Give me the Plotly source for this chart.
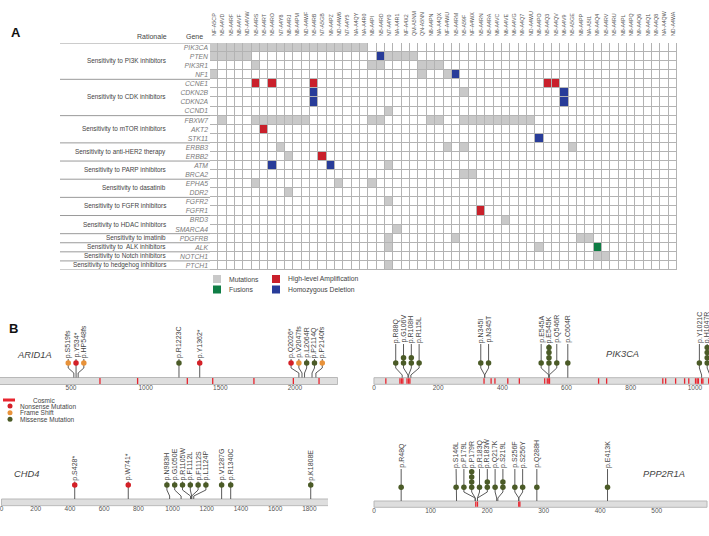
import plotly.graph_objects as go

W, H = 709, 536
FONT = "Liberation Sans, Arial, sans-serif"

# ---------------- Panel A data ----------------
SAMPLES = ["NF-A5CP", "N5-A4VD", "N5-A4RF", "N8-A4VF", "ND-A4VW", "N5-A4RS", "N5-A4RT", "N5-A4RO",
           "N7-A4Y8", "N8-A4RJ", "N8-A4PM", "ND-A4WF", "N5-A4RB", "N7-A5GB", "N9-A4PZ", "ND-A4W6",
           "N7-A4Y5", "NA-A4QY", "NA-A4R0", "N8-A4PI", "N5-A4RD", "N7-A4Y0", "NA-A4R1", "NF-A4X2",
           "QM-A5NM", "QN-A5NN", "N8-A4PN", "NA-A4QX", "NF-A4WU", "N5-A4RM", "N5-A59F", "NF-A4WX",
           "N5-A4RN", "N5-A4RA", "N6-A4VC", "N6-A4VE", "N6-A4VG", "N9-A4Q7", "ND-A4WU", "N8-A4PO",
           "N5-A4Q3", "N5-A4QV", "N6-A4V9", "N5-A5GE", "N8-A4PP", "NA-A5I1", "N9-A4Q4", "N5-A4RV",
           "N5-A4RU", "N8-A4PL", "N8-A4PQ", "N9-A4Q6", "N9-A4Q1", "N9-A4Q8", "NA-A4QW", "ND-A4WA"]

GENES = ["PIK3CA", "PTEN", "PIK3R1", "NF1", "CCNE1", "CDKN2B", "CDKN2A", "CCND1", "FBXW7", "AKT2",
         "STK11", "ERBB3", "ERBB2", "ATM", "BRCA2", "EPHA5", "DDR2", "FGFR2", "FGFR1", "BRD3",
         "SMARCA4", "PDGFRB", "ALK", "NOTCH1", "PTCH1"]

RATIONALES = ["Sensitivity to PI3K inhibitors", "Sensitivity to CDK inhibitors",
              "Sensitivity to mTOR inhibitors", "Sensitivity to anti-HER2 therapy",
              "Sensitivity to PARP inhibitors", "Sensitivity to dasatinib",
              "Sensitivity to FGFR inhibitors", "Sensitivity to HDAC inhibitors",
              "Sensitivity to imatinib", "Sensitivity to  ALK inhibitors",
              "Sensitivity to Notch inhibitors", "Sensitivity to hedgehog inhibitors"]
RATIONALE_SIZES = [4, 4, 3, 2, 2, 2, 2, 2, 1, 1, 1, 1]

# sample indices (into SAMPLES) per gene and alteration type
MUTATIONS = {
    "PIK3CA": [0, 1, 2, 3, 4, 5, 6, 7, 8, 9, 10, 11, 12, 13, 14, 15, 16, 17, 18],
    "PTEN": [0, 1, 2, 3, 4, 21, 22, 23, 24],
    "PIK3R1": [5, 19, 20, 25, 26, 27],
    "NF1": [0, 25, 28],
    "CDKN2B": [30],
    "CCND1": [21],
    "FBXW7": [1, 5, 6, 7, 8, 9, 10, 11, 19, 20, 26, 27, 30, 31, 32, 33, 34, 35, 36, 37, 38],
    "ERBB3": [8, 28, 30, 43],
    "ERBB2": [9],
    "ATM": [21],
    "BRCA2": [30, 31],
    "EPHA5": [5, 15, 19],
    "DDR2": [9],
    "FGFR2": [21],
    "BRD3": [35],
    "SMARCA4": [22],
    "PDGFRB": [21, 29, 44, 45],
    "ALK": [21, 39],
    "NOTCH1": [46, 47],
    "PTCH1": [21],
}
AMPLIFICATIONS = {"CCNE1": [5, 7, 12, 40, 41], "AKT2": [6], "ERBB2": [13], "FGFR1": [32]}
DELETIONS = {"PTEN": [20], "NF1": [29], "CDKN2B": [12, 42], "CDKN2A": [12, 42],
             "STK11": [39], "ATM": [7, 14]}
FUSIONS = {"ALK": [46]}

ALT_NAMES = ["Mutations", "High-level Amplification", "Fusions", "Homozygous Deletion"]
C_GRAY, C_RED, C_GREEN, C_BLUE = "#c9c9c9", "#c9202b", "#0f7d45", "#283c99"
GRID = "#b3b3b3"

# ---------------- Panel B data ----------------
ARID1A = dict(length=2285,
              labels=["p.S519fs", "p.Y534*", "p.HP548fs", "p.R1223C", "p.Y1362*", "p.Q2026*",
                      "p.V2047fs", "p.L2064R", "p.P2114Q", "p.P2140fs"],
              pos=[519, 534, 548, 1223, 1362, 2026, 2047, 2064, 2114, 2140],
              types=["fs", "ns", "fs", "ms", "ns", "ns", "fs", "ms", "ms", "fs"],
              counts=[1, 1, 1, 1, 1, 1, 1, 1, 1, 1],
              cosmic=[694, 946, 1279, 1449, 1725, 1989, 2161],
              ticks=[500, 1000, 1500, 2000])
PIK3CA = dict(length=1068,
              labels=["p.R88Q", "p.G106V", "p.R108H", "p.R115L", "p.N345I", "p.N345T", "p.E545A",
                      "p.E545K", "p.Q546R", "p.C604R", "p.Y1021C", "p.H1047R", "p.H1047L"],
              pos=[88, 106, 108, 115, 345, 345, 545, 545, 546, 604, 1021, 1047, 1047],
              types=["ms"] * 13,
              counts=[1, 2, 2, 1, 1, 1, 1, 4, 1, 1, 1, 4, 1],
              cosmic=[37, 81, 86, 90, 103, 108, 112, 343, 365, 377, 417, 453, 532, 540, 545, 547,
                      700, 725, 900, 909, 940, 968, 981, 1002, 1007, 1011, 1021, 1025, 1043, 1047],
              ticks=[0, 200, 400, 600, 800, 1000])
CHD4 = dict(length=1912,
            labels=["p.S428*", "p.W741*", "p.N983H", "p.G1050E", "p.R1105W", "p.F1112L",
                    "p.F1112S", "p.L1124P", "p.V1287G", "p.R1340C", "p.K1808E"],
            pos=[428, 741, 983, 1050, 1105, 1112, 1112, 1124, 1287, 1340, 1808],
            types=["ns", "ns", "ms", "ms", "ms", "ms", "ms", "ms", "ms", "ms", "ms"],
            counts=[1] * 11,
            cosmic=[],
            ticks=[0, 200, 400, 600, 800, 1000, 1200, 1400, 1600, 1800])
PPP2R1A = dict(length=589,
               labels=["p.R48Q", "p.S146L", "p.P179L", "p.P179R", "p.R183Q", "p.R183W",
                       "p.Q217K", "p.S219L", "p.S256F", "p.S256Y", "p.Q288H", "p.E413K"],
               pos=[48, 146, 179, 179, 183, 183, 217, 219, 256, 256, 288, 413],
               types=["ms"] * 12,
               counts=[1, 1, 1, 4, 1, 2, 1, 2, 1, 1, 1, 1],
               cosmic=[180, 183, 256, 258],
               ticks=[0, 100, 200, 300, 400, 500])

TYPE_COLORS = {"ns": "#d42027", "fs": "#e8923a", "ms": "#4b5b27"}
TYPE_NAMES = {"ns": "Nonsense Mutation", "fs": "Frame Shift", "ms": "Missense Mutation"}
COSMIC_RED = "#e8252f"


def px(x):
    return x / W


def py(y):
    return 1 - y / H


fig = go.Figure()
shapes, annos = [], []

# ---------------- Panel A: heatmap ----------------
code = {}
for g, lst in MUTATIONS.items():
    for s in lst:
        code[(g, s)] = 1
for g, lst in AMPLIFICATIONS.items():
    for s in lst:
        code[(g, s)] = 2
for g, lst in DELETIONS.items():
    for s in lst:
        code[(g, s)] = 3
for g, lst in FUSIONS.items():
    for s in lst:
        code[(g, s)] = 4
z = [[code.get((g, s), 0) for s in range(len(SAMPLES))] for g in GENES]

cs = [[0, "white"], [0.2, "white"], [0.2, C_GRAY], [0.4, C_GRAY], [0.4, C_RED], [0.6, C_RED],
      [0.6, C_BLUE], [0.8, C_BLUE], [0.8, C_GREEN], [1, C_GREEN]]
fig.add_trace(go.Heatmap(z=z, x=list(range(len(SAMPLES))), y=list(range(len(GENES))),
                         zmin=-0.5, zmax=4.5, colorscale=cs, showscale=False, xgap=1, ygap=1,
                         hoverinfo="skip", xaxis="x", yaxis="y"))
nS, nG = len(SAMPLES), len(GENES)
shapes.append(dict(type="rect", xref="x", yref="y", x0=-0.5, x1=nS - 0.5, y0=-0.5, y1=nG - 0.5,
                   fillcolor=GRID, line=dict(color=GRID, width=1), layer="below"))

fig.update_layout(
    xaxis=dict(domain=[px(210), px(677)], range=[-0.5, nS - 0.5], side="top",
               tickvals=list(range(nS)), ticktext=SAMPLES, tickangle=-90,
               tickfont=dict(size=5.3, color="#555", family=FONT), showgrid=False,
               zeroline=False, showline=False, ticks="", ticklabelstandoff=6, anchor="y"),
    yaxis=dict(domain=[py(270), py(43)], range=[nG - 0.5, -0.5], tickvals=list(range(nG)),
               ticktext=[f"<i>{g}</i>" for g in GENES],
               tickfont=dict(size=6.8, color="#7a7a7a", family=FONT), showgrid=False,
               zeroline=False, showline=False, ticks="", ticklabelstandoff=1, anchor="x"),
)

# rationale groups
start = 0
bounds = [0]
for name, n in zip(RATIONALES, RATIONALE_SIZES):
    annos.append(dict(text=name, xref="paper", yref="y", x=px(168), y=start + (n - 1) / 2,
                      xanchor="right", yanchor="middle", showarrow=False,
                      font=dict(size=6.4, color="#444", family=FONT)))
    start += n
    bounds.append(start)
for b in bounds:
    shapes.append(dict(type="line", xref="paper", yref="y", x0=px(60), x1=px(210),
                       y0=b - 0.5, y1=b - 0.5, line=dict(color="#9a9a9a", width=1)))

annos.append(dict(text="Rationale", xref="paper", yref="paper", x=px(169), y=py(36.5),
                  xanchor="right", yanchor="middle", showarrow=False,
                  font=dict(size=7, color="#444", family=FONT)))
annos.append(dict(text="Gene", xref="paper", yref="paper", x=px(184), y=py(36.5),
                  xanchor="left", yanchor="middle", showarrow=False,
                  font=dict(size=7, color="#444", family=FONT)))
annos.append(dict(text="<b>A</b>", xref="paper", yref="paper", x=px(9), y=py(33),
                  xanchor="left", yanchor="middle", showarrow=False,
                  font=dict(size=13, color="#111", family=FONT)))
annos.append(dict(text="<b>B</b>", xref="paper", yref="paper", x=px(7), y=py(328),
                  xanchor="left", yanchor="middle", showarrow=False,
                  font=dict(size=13, color="#111", family=FONT)))

# legend A
leg_a = [(ALT_NAMES[0], C_GRAY, 213, 279), (ALT_NAMES[1], C_RED, 272, 279),
         (ALT_NAMES[2], C_GREEN, 213, 289.5), (ALT_NAMES[3], C_BLUE, 272, 289.5)]
for name, col, x0, yc in leg_a:
    shapes.append(dict(type="rect", xref="paper", yref="paper", x0=px(x0), x1=px(x0 + 8),
                       y0=py(yc - 4), y1=py(yc + 4), fillcolor=col, line=dict(width=0)))
    annos.append(dict(text=name, xref="paper", yref="paper", x=px(x0 + 14), y=py(yc),
                      xanchor="left", yanchor="middle", showarrow=False,
                      font=dict(size=6.8, color="#444", family=FONT)))


# ---------------- Panel B: lollipops ----------------
def spread(pos, s):
    order = sorted(range(len(pos)), key=lambda i: pos[i])
    clusters = [[i] for i in order]

    def centre(c):
        return sum(pos[i] for i in c) / len(c)

    def ext(c):
        m, h = centre(c), (len(c) - 1) / 2 * s
        return m - h, m + h

    merged = True
    while merged:
        merged = False
        for j in range(len(clusters) - 1):
            if ext(clusters[j])[1] + s > ext(clusters[j + 1])[0] + 1e-9:
                clusters[j] = clusters[j] + clusters[j + 1]
                del clusters[j + 1]
                merged = True
                break
    disp = [0.0] * len(pos)
    for c in clusters:
        m = centre(c)
        for j, i in enumerate(c):
            disp[i] = m + (j - (len(c) - 1) / 2) * s
    return disp


SPACING_PX = 7.8
STACK_PX = 5.2

PANELS = [
    (2, "ARID1A", ARID1A, dict(xl=0, xr=338, r0=24.5, r1=2288, top=318, bar_top=377.5,
                               bar_bot=384.5, dot=363, lab=359, e1=368, e2=373, axis=382,
                               name_x=15, name_y=355, name_anchor="left")),
    (3, "PIK3CA", PIK3CA, dict(xl=373, xr=709, r0=-3, r1=1044, top=318, bar_top=377.7,
                               bar_bot=384.3, dot=363, lab=344, e1=368, e2=375, axis=382,
                               name_x=604, name_y=354, name_anchor="left")),
    (4, "CHD4", CHD4, dict(xl=0, xr=328, r0=-9, r1=1909, top=440, bar_top=499,
                           bar_bot=505.7, dot=485, lab=481.5, e1=490, e2=496, axis=503.5,
                           name_x=12, name_y=474, name_anchor="left")),
    (5, "PPP2R1A", PPP2R1A, dict(xl=373, xr=709, r0=-1.8, r1=592.5, top=440, bar_top=501,
                                 bar_bot=507.3, dot=487.3, lab=469, e1=492, e2=498, axis=505.5,
                                 name_x=641, name_y=474, name_anchor="left")),
]

for n, gene, d, g in PANELS:
    xr, yr = f"x{n}", f"y{n}"
    k = (g["xr"] - g["xl"]) / (g["r1"] - g["r0"])
    disp = spread(d["pos"], SPACING_PX / k)
    fig.layout[f"xaxis{n}"] = dict(domain=[px(g["xl"]), px(g["xr"])], range=[g["r0"], g["r1"]],
                                   tickvals=d["ticks"], ticks="", showgrid=False, zeroline=False,
                                   showline=False, anchor="free", position=py(g["axis"]),
                                   ticklabeloverflow="allow",
                                   tickfont=dict(size=6.5, color="#555", family=FONT))
    fig.layout[f"yaxis{n}"] = dict(domain=[py(g["bar_bot"] + 1), py(g["top"])],
                                   range=[g["bar_bot"] + 1, g["top"]], visible=False,
                                   anchor=xr)
    # protein bar
    shapes.append(dict(type="rect", xref=xr, yref=yr, x0=0, x1=d["length"], y0=g["bar_top"],
                       y1=g["bar_bot"], fillcolor="#dedede", line=dict(color="#b8b8b8", width=1),
                       layer="below"))
    # cosmic hotspots
    cx, cy = [], []
    for c in d["cosmic"]:
        cx += [c, c, None]
        cy += [g["bar_top"] + 0.5, g["bar_bot"] - 0.5, None]
    if cx:
        fig.add_trace(go.Scatter(x=cx, y=cy, mode="lines", line=dict(color=COSMIC_RED, width=1.3),
                                 hoverinfo="skip", showlegend=False, xaxis=xr, yaxis=yr))
    # stems
    sx, sy = [], []
    for p, dp in zip(d["pos"], disp):
        sx += [dp, dp, dp, p, p, None]
        sy += [g["lab"], g["dot"], g["e1"], g["e2"], g["bar_top"], None]
    fig.add_trace(go.Scatter(x=sx, y=sy, mode="lines", line=dict(color="#5a5a5a", width=1),
                             hoverinfo="skip", showlegend=False, xaxis=xr, yaxis=yr))
    # dots
    for t in ["ms", "fs", "ns"]:
        dx, dy = [], []
        for dp, tt, cnt in zip(disp, d["types"], d["counts"]):
            if tt != t:
                continue
            for j in range(cnt):
                dx.append(dp)
                dy.append(g["dot"] - j * STACK_PX)
        if dx:
            fig.add_trace(go.Scatter(x=dx, y=dy, mode="markers",
                                     marker=dict(size=5.5, color=TYPE_COLORS[t], line=dict(width=0)),
                                     name=TYPE_NAMES[t], showlegend=False, hoverinfo="skip",
                                     xaxis=xr, yaxis=yr))
    # labels
    for lab, dp in zip(d["labels"], disp):
        annos.append(dict(text=lab, xref=xr, yref=yr, x=dp, y=g["lab"], textangle=-90,
                          xanchor="center", yanchor="bottom", showarrow=False, borderpad=0,
                          font=dict(size=7, color="#444", family=FONT)))
    annos.append(dict(text=f"<i>{gene}</i>", xref="paper", yref="paper", x=px(g["name_x"]),
                      y=py(g["name_y"]), xanchor=g["name_anchor"], yanchor="middle",
                      showarrow=False, font=dict(size=9.3, color="#444", family=FONT)))

# legend B
shapes.append(dict(type="line", xref="paper", yref="paper", x0=px(3), x1=px(15), y0=py(400),
                   y1=py(400), line=dict(color=COSMIC_RED, width=3)))
annos.append(dict(text="Cosmic", xref="paper", yref="paper", x=px(31), y=py(400),
                  xanchor="left", yanchor="middle", showarrow=False,
                  font=dict(size=6.5, color="#444", family=FONT)))
for t, yc in [("ns", 406), ("fs", 412.7), ("ms", 419.3)]:
    shapes.append(dict(type="circle", xref="paper", yref="paper", x0=px(7.5), x1=px(12.5),
                       y0=py(yc + 2.5), y1=py(yc - 2.5), fillcolor=TYPE_COLORS[t],
                       line=dict(width=0)))
    annos.append(dict(text=TYPE_NAMES[t], xref="paper", yref="paper", x=px(18), y=py(yc),
                      xanchor="left", yanchor="middle", showarrow=False,
                      font=dict(size=6.5, color="#444", family=FONT)))

fig.update_layout(width=W, height=H, margin=dict(l=0, r=0, t=0, b=0), paper_bgcolor="white",
                  plot_bgcolor="white", showlegend=False, shapes=shapes, annotations=annos,
                  font=dict(family=FONT))
fig.write_html("out.html")
